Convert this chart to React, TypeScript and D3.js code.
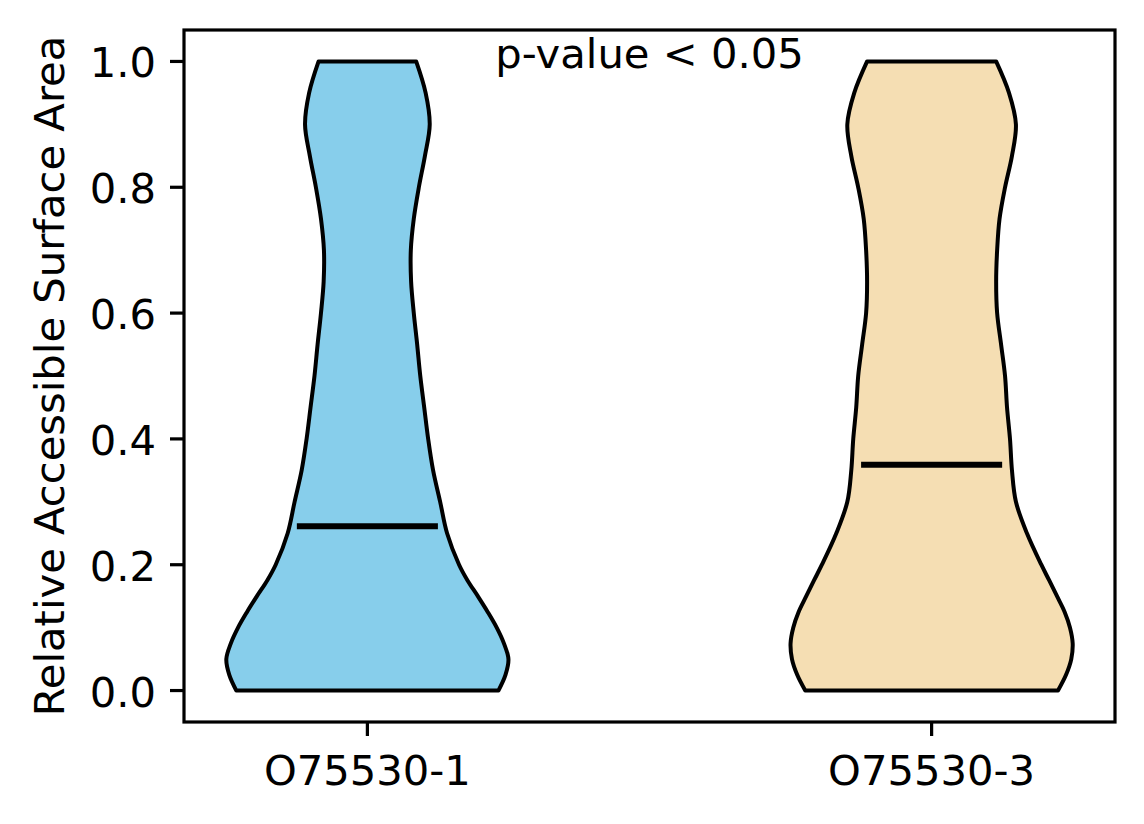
import React from 'react';
import * as d3 from 'd3';

// sample positions along the value axis (RSA)
const rsaLevels = [0, 0.025, 0.05, 0.075, 0.1, 0.125, 0.15, 0.175, 0.2, 0.25, 0.3, 0.35, 0.4, 0.45, 0.5, 0.55, 0.6, 0.65, 0.7, 0.75, 0.8, 0.85, 0.9, 0.95, 1.0];

// relative kernel density
const densityIso1 = [0.929, 0.979, 1.0, 0.968, 0.917, 0.853, 0.783, 0.71, 0.65, 0.565, 0.516, 0.466, 0.431, 0.403, 0.375, 0.353, 0.329, 0.31, 0.308, 0.329, 0.365, 0.408, 0.442, 0.413, 0.346];
const densityIso3 = [0.895, 0.952, 0.989, 0.999, 0.98, 0.942, 0.888, 0.833, 0.777, 0.675, 0.597, 0.569, 0.555, 0.534, 0.52, 0.492, 0.464, 0.457, 0.464, 0.481, 0.52, 0.569, 0.597, 0.548, 0.457];

const isoforms = ['O75530-1', 'O75530-3'];
const means = [0.261, 0.359];
const fills = ['#87CEEB', '#F5DEB3'];
const yTicks = [0, 0.2, 0.4, 0.6, 0.8, 1.0];
const annotation = 'p-value < 0.05';
const yLabel = 'Relative Accessible Surface Area';

const W = 1144;
const H = 824;
const margin = { left: 184, right: 1115, top: 30, bottom: 722 };
const violinWidth = 0.5;
const font = '"DejaVu Sans", Verdana, sans-serif';
const fs = 41.7;

const App: React.FC = () => {
  const x = d3.scaleLinear().domain([0.675, 2.325]).range([margin.left, margin.right]);
  const y = d3.scaleLinear().domain([-0.05, 1.05]).range([margin.bottom, margin.top]);

  const densities = [densityIso1, densityIso3];

  const violins = densities.map((dens, i) => {
    const pos = i + 1;
    const maxD = d3.max(dens) || 1;
    const pts = rsaLevels.map((v, j) => ({ v, h: (dens[j] / maxD) * (violinWidth / 2) }));
    const area = d3
      .area<{ v: number; h: number }>()
      .y((d) => y(d.v))
      .x0((d) => x(pos - d.h))
      .x1((d) => x(pos + d.h))
      .curve(d3.curveCatmullRom.alpha(0.5));
    return { pos, path: area(pts) || '' };
  });

  const tickLen = 14;
  const lw = 3.2;

  return (
    <svg
      width={W}
      height={H}
      style={{ position: 'absolute', left: 0, top: 0, background: '#fff' }}
      fontFamily={font}
    >
      <rect x={0} y={0} width={W} height={H} fill="#fff" />

      {violins.map((vl, i) => (
        <path key={isoforms[i]} d={vl.path} fill={fills[i]} stroke="#000" strokeWidth={4} strokeLinejoin="round" />
      ))}

      {means.map((m, i) => (
        <line
          key={'mean' + i}
          x1={x(i + 1 - violinWidth / 4)}
          x2={x(i + 1 + violinWidth / 4)}
          y1={y(m)}
          y2={y(m)}
          stroke="#000"
          strokeWidth={6}
        />
      ))}

      <rect
        x={margin.left}
        y={margin.top}
        width={margin.right - margin.left}
        height={margin.bottom - margin.top}
        fill="none"
        stroke="#000"
        strokeWidth={lw}
      />

      {yTicks.map((t) => (
        <g key={'yt' + t}>
          <line x1={margin.left - tickLen} x2={margin.left} y1={y(t)} y2={y(t)} stroke="#000" strokeWidth={lw} />
          <text x={margin.left - tickLen - 14} y={y(t) + 16} fontSize={fs} textAnchor="end" fill="#000">
            {d3.format('.1f')(t)}
          </text>
        </g>
      ))}

      {isoforms.map((name, i) => (
        <g key={'xt' + name}>
          <line x1={x(i + 1)} x2={x(i + 1)} y1={margin.bottom} y2={margin.bottom + tickLen} stroke="#000" strokeWidth={lw} />
          <text x={x(i + 1)} y={785} fontSize={fs} textAnchor="middle" fill="#000">
            {name}
          </text>
        </g>
      ))}

      <text
        transform={`translate(64, ${(margin.top + margin.bottom) / 2}) rotate(-90)`}
        fontSize={fs}
        textAnchor="middle"
        fill="#000"
      >
        {yLabel}
      </text>

      <text x={x(1.5)} y={68} fontSize={fs} textAnchor="middle" fill="#000">
        {annotation}
      </text>
    </svg>
  );
};

export default App;
